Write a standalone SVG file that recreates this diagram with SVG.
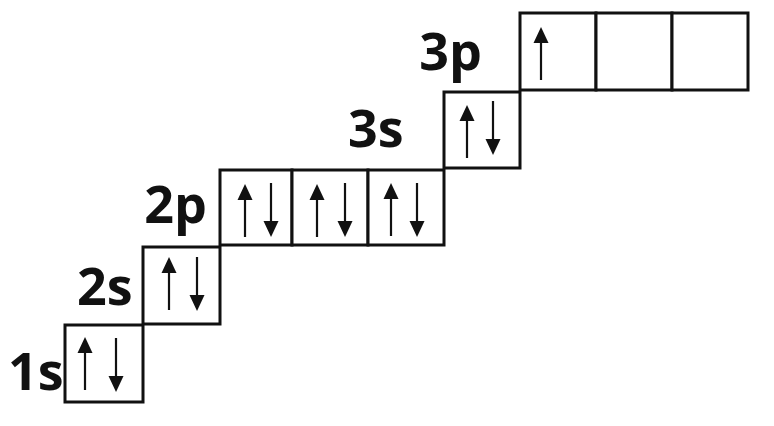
<svg xmlns="http://www.w3.org/2000/svg" width="774" height="426" viewBox="0 0 774 426">
<defs>
<style>
.box{fill:#fff;stroke:#111;stroke-width:3}
.lbl{font-family:"Open Sans","DejaVu Sans",sans-serif;font-weight:700;font-size:52px;fill:#111;text-anchor:end}
.shaft{stroke:#111;stroke-width:2.2}
.head{fill:#111}
</style>
<g id="up">
<line class="shaft" x1="0" y1="12" x2="0" y2="53"/>
<polygon class="head" points="0,0 -7.5,16 7.5,16"/>
</g>
<g id="down">
<line class="shaft" x1="0" y1="0" x2="0" y2="42"/>
<polygon class="head" points="0,54 -7.5,38 7.5,38"/>
</g>
</defs>
<rect width="774" height="426" fill="#fff"/>
<g id="n1s">
<rect class="box" x="65" y="325" width="78" height="77"/>
<use href="#up" x="85" y="337"/>
<use href="#down" x="116" y="338"/>
<text class="lbl" x="63.5" y="390">1s</text>
</g>
<g id="n2s">
<rect class="box" x="143" y="247" width="77" height="77"/>
<use href="#up" x="169" y="257"/>
<use href="#down" x="197" y="257"/>
<text class="lbl" x="132.5" y="305">2s</text>
</g>
<g id="n2p">
<rect class="box" x="220" y="170" width="72" height="75"/>
<rect class="box" x="292" y="170" width="76" height="75"/>
<rect class="box" x="368" y="170" width="76" height="75"/>
<use href="#up" x="245" y="184"/>
<use href="#down" x="271" y="183"/>
<use href="#up" x="317" y="184"/>
<use href="#down" x="345" y="183"/>
<use href="#up" x="391" y="183"/>
<use href="#down" x="417" y="183"/>
<text class="lbl" x="207" y="223">2p</text>
</g>
<g id="n3s">
<rect class="box" x="444" y="92" width="76" height="76"/>
<use href="#up" x="467" y="105"/>
<use href="#down" x="493" y="101"/>
<text class="lbl" x="403.5" y="147">3s</text>
</g>
<g id="n3p">
<rect class="box" x="520" y="13" width="76" height="77"/>
<rect class="box" x="596" y="13" width="76" height="77"/>
<rect class="box" x="672" y="13" width="76" height="77"/>
<use href="#up" x="541" y="27"/>
<text class="lbl" x="482" y="70">3p</text>
</g>
<g id="connectors"/>
</svg>
